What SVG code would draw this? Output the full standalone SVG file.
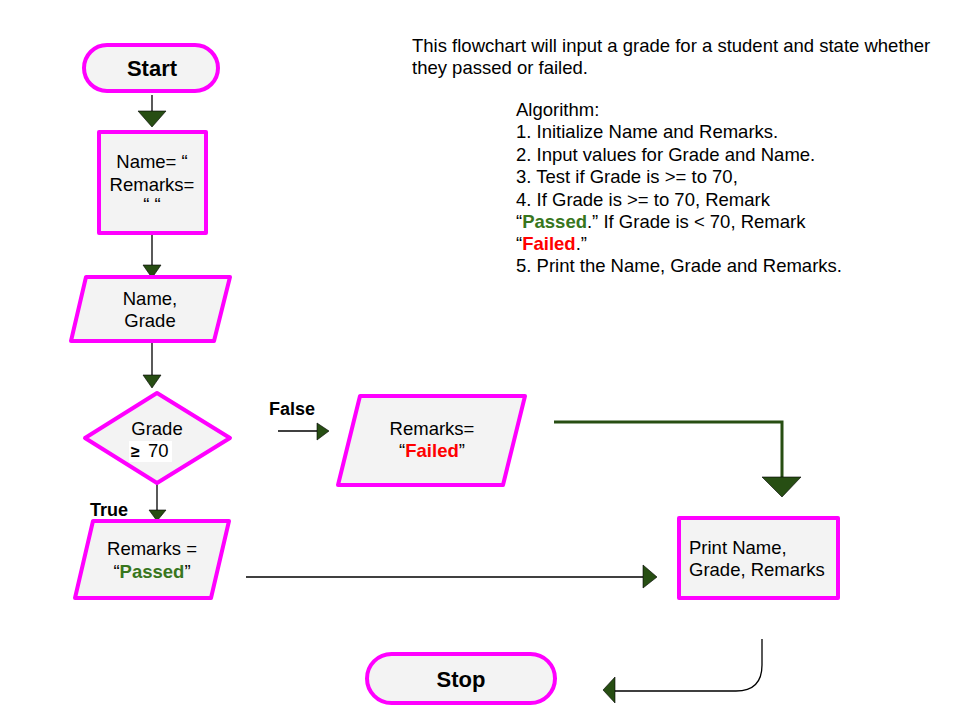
<svg xmlns="http://www.w3.org/2000/svg" width="960" height="720" viewBox="0 0 960 720">
<style>
.node{fill:#f3f3f3;stroke:#ff00ff;stroke-width:4;stroke-linejoin:round}
.t{font-family:"Liberation Sans",Arial,sans-serif;font-size:18.5px;fill:#000}
.big{font-size:22px;font-weight:bold}
.lbl{font-size:18px;font-weight:bold}
.d{font-family:"Liberation Sans",Arial,sans-serif;font-size:18.5px;fill:#000}
.g{fill:#38761d;font-weight:bold}
.r{fill:#ff0000;font-weight:bold}
.ln{stroke:#000;stroke-width:1.3;fill:none}
.thick{stroke:#274e13;stroke-width:3;fill:none}
.ah{fill:#274e13;stroke:#000;stroke-width:0.6}
</style>
<rect width="960" height="720" fill="#fff"/>
<g id="connectors">
  <line class="ln" x1="152" y1="95" x2="152" y2="111"/>
  <polygon class="ah" points="138,111 166,111 152,127"/>
  <line class="ln" x1="152" y1="234" x2="152" y2="266"/>
  <polygon class="ah" points="143,265 161,265 152,278"/>
  <line class="ln" x1="152" y1="342" x2="152" y2="375"/>
  <polygon class="ah" points="143,375 161,375 152,388"/>
  <line class="ln" x1="157" y1="483" x2="157" y2="510"/>
  <polygon class="ah" points="149,510 166,510 157,521"/>
  <line class="ln" x1="278" y1="431" x2="318" y2="431"/>
  <polygon class="ah" points="317,423 329,431 317,440"/>
  <polyline class="thick" points="554,422 782,422 782,478"/>
  <polygon class="ah" points="762,477 801,477 782,497"/>
  <line class="ln" x1="246" y1="577" x2="644" y2="577"/>
  <polygon class="ah" points="643,565 657,577 643,588"/>
  <path class="ln" d="M762,639 V665 Q762,691 736,691 H614"/>
  <polygon class="ah" points="615,677 603,690 615,703"/>
</g>
<g id="start">
  <rect class="node" x="84" y="45" width="134" height="46" rx="23"/>
  <text class="t big" x="152" y="76" text-anchor="middle">Start</text>
</g>
<g id="init">
  <rect class="node" x="99" y="132" width="107" height="101"/>
  <text class="t" x="152" y="168" text-anchor="middle">Name= “</text>
  <text class="t" x="152" y="191" text-anchor="middle">Remarks=</text>
  <text class="t" x="152" y="211" text-anchor="middle">“ “</text>
</g>
<g id="input">
  <polygon class="node" points="86,277 230,277 214,341 71,341"/>
  <text class="t" x="150" y="305" text-anchor="middle">Name,</text>
  <text class="t" x="150" y="327" text-anchor="middle">Grade</text>
</g>
<g id="decision">
  <polygon class="node" points="157,393 230,438 157,483 85,438"/>
  <text class="t" x="157" y="435" text-anchor="middle">Grade</text>
  <rect x="129" y="441" width="43" height="21" fill="#fff"/>
  <text class="t" x="131" y="457"><tspan font-weight="bold" style="font-size:16px">≥</tspan><tspan x="148">70</tspan></text>
</g>
<g id="failed">
  <polygon class="node" points="360,396 525,396 503,485 338,485"/>
  <text class="t" x="432" y="435" text-anchor="middle">Remarks=</text>
  <text class="t" x="432" y="457" text-anchor="middle">“<tspan class="r">Failed</tspan>”</text>
</g>
<g id="passed">
  <polygon class="node" points="93,521 229,521 211,598 75,598"/>
  <text class="t" x="152" y="555" text-anchor="middle">Remarks =</text>
  <text class="t" x="152" y="578" text-anchor="middle">“<tspan class="g">Passed</tspan>”</text>
</g>
<g id="print">
  <rect class="node" x="679" y="518" width="159" height="80"/>
  <text class="t" x="689" y="554">Print Name,</text>
  <text class="t" x="689" y="576">Grade, Remarks</text>
</g>
<g id="stop">
  <rect class="node" x="367" y="654" width="188" height="49" rx="24.5"/>
  <text class="t big" x="461" y="687" text-anchor="middle">Stop</text>
</g>
<g id="labels">
  <text class="t lbl" x="90" y="516">True</text>
  <text class="t lbl" x="269" y="415">False</text>
</g>
<g id="description">
  <text class="d" x="412" y="52">This flowchart will input a grade for a student and state whether</text>
  <text class="d" x="412" y="74">they passed or failed.</text>
  <text class="d" x="516" y="116">Algorithm:</text>
  <text class="d" x="516" y="138">1. Initialize Name and Remarks.</text>
  <text class="d" x="516" y="161">2. Input values for Grade and Name.</text>
  <text class="d" x="516" y="183">3. Test if Grade is &gt;= to 70,</text>
  <text class="d" x="516" y="206">4. If Grade is &gt;= to 70, Remark</text>
  <text class="d" x="516" y="228">“<tspan class="g">Passed</tspan>.” If Grade is &lt; 70, Remark</text>
  <text class="d" x="516" y="250">“<tspan class="r">Failed</tspan>.”</text>
  <text class="d" x="516" y="272">5. Print the Name, Grade and Remarks.</text>
</g>
</svg>
